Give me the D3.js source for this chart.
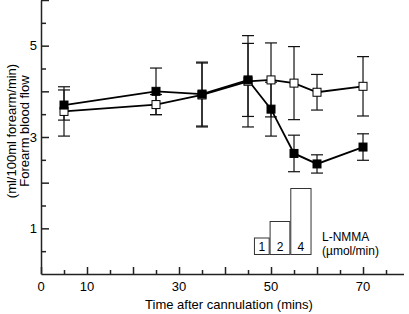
<!DOCTYPE html>
<html>
<head>
<meta charset="utf-8">
<script src="https://cdn.jsdelivr.net/npm/d3@7/dist/d3.min.js"></script>
<style>
  body { margin: 0; background: #fff; }
  svg { display: block; font-family: "Liberation Sans", Arial, sans-serif; }
  .axis path, .axis line { stroke: #222; stroke-width: 1.5px; }
</style>
</head>
<body>
<div id="chart"></div>
<script>
// time points (mins after cannulation)
var times = [5, 25, 35, 45, 50, 55, 60, 70];

// forearm blood flow, control arm (open squares)
var openMean = [3.56, 3.71, 3.92, 4.22, 4.25, 4.18, 3.98, 4.11];
var openErr  = [0.54, 0.22, 0.70, 1.00, 0.81, 0.80, 0.39, 0.65];

// forearm blood flow, infused arm (filled squares)
var filledMean = [3.70, 4.00, 3.94, 4.25, 3.61, 2.64, 2.41, 2.78];
var filledErr  = [0.33, 0.51, 0.70, 0.80, 0.59, 0.40, 0.20, 0.29];

// L-NMMA infusion steps
var doseStart = [46.4, 49.8, 54.3];
var doseEnd   = [49.6, 54.1, 58.7];
var doses     = [1, 2, 4];

var xTicks = d3.range(0, 76, 5);
var xLabels = [0, 10, 30, 50, 70];
var yTicks = d3.range(0.5, 6.01, 0.5);
var yLabels = [1, 3, 5];

var width = 409, height = 314;

var svg = d3.select('#chart').append('svg')
            .attr('width', width)
            .attr('height', height);

// scales
var xScale = d3.scaleLinear().domain([0, 78.8]).range([41, 403.5]),
    yScale = d3.scaleLinear().domain([0, 6]).range([274, 0]),
    doseScale = d3.scaleLinear().domain([0, 4]).range([254.5, 188.5]);

// axes - ticks point inwards, only some are labelled
var xAxis = d3.axisTop(xScale)
              .tickValues(xTicks)
              .tickSizeOuter(0)
              .tickSize(0)
              .tickFormat('');

var gx = svg.append('g')
            .attr('class', 'axis axis--x')
            .attr('transform', 'translate(0,274)')
            .call(xAxis);
gx.selectAll('.tick line')
  .attr('y2', function(d) { return d % 10 === 0 ? -7 : -4; });

svg.append('g').selectAll('text')
   .data(xLabels)
   .enter().append('text')
   .attr('x', function(d) { return xScale(d); })
   .attr('y', 291)
   .attr('text-anchor', 'middle')
   .style('font-size', '13px')
   .text(function(d) { return d; });

var yAxis = d3.axisRight(yScale)
              .tickValues(yTicks)
              .tickSizeOuter(0)
              .tickSize(0)
              .tickFormat('');

var gy = svg.append('g')
            .attr('class', 'axis axis--y')
            .attr('transform', 'translate(41,0)')
            .call(yAxis);
gy.selectAll('.tick line')
  .attr('x2', function(d) { return d % 1 === 0 ? 8 : 5; });

svg.append('g').selectAll('text')
   .data(yLabels)
   .enter().append('text')
   .attr('x', 37)
   .attr('y', function(d) { return yScale(d); })
   .attr('dy', '0.35em')
   .attr('text-anchor', 'end')
   .style('font-size', '13px')
   .text(function(d) { return d; });

// axis titles
svg.append('text')
   .attr('x', 229)
   .attr('y', 309)
   .attr('text-anchor', 'middle')
   .style('font-size', '13px')
   .text('Time after cannulation (mins)');

var ylab = svg.append('text')
              .attr('text-anchor', 'middle')
              .attr('transform', 'translate(0,131)rotate(-90)')
              .style('font-size', '13px');
ylab.append('tspan').attr('x', 0).attr('y', 29).text('Forearm blood flow');
ylab.append('tspan').attr('x', 0).attr('y', 16).text('(ml/100ml forearm/min)');

// L-NMMA dose boxes
var boxes = svg.append('g').selectAll('g')
               .data(doses)
               .enter().append('g');

boxes.append('rect')
     .attr('x', function(d, i) { return xScale(doseStart[i]); })
     .attr('width', function(d, i) { return xScale(doseEnd[i]) - xScale(doseStart[i]); })
     .attr('y', function(d) { return doseScale(d); })
     .attr('height', function(d) { return doseScale(0) - doseScale(d); })
     .attr('fill', '#fff')
     .attr('stroke', '#333')
     .attr('stroke-width', 1);

boxes.append('text')
     .attr('x', function(d, i) { return (xScale(doseStart[i]) + xScale(doseEnd[i])) / 2; })
     .attr('y', 251)
     .attr('text-anchor', 'middle')
     .style('font-size', '12px')
     .text(function(d) { return d; });

svg.append('text')
   .attr('x', 322)
   .attr('y', 241)
   .style('font-size', '12px')
   .text('L-NMMA');
svg.append('text')
   .attr('x', 322)
   .attr('y', 255)
   .style('font-size', '12px')
   .text('(\u00b5mol/min)');

// build series
function makeSeries(means, errs) {
  return times.map(function(t, i) {
    return {t: t, v: means[i], e: errs[i]};
  });
}
var series = [
  {name: 'open', data: makeSeries(openMean, openErr), fill: '#fff'},
  {name: 'filled', data: makeSeries(filledMean, filledErr), fill: '#000'}
];

var line = d3.line()
             .x(function(d) { return xScale(d.t); })
             .y(function(d) { return yScale(d.v); });

var capW = 6, sq = 8;

// error bars first
series.forEach(function(s) {
  var eb = svg.append('g').selectAll('g')
              .data(s.data)
              .enter().append('g')
              .attr('stroke', '#111')
              .attr('stroke-width', 1.2);
  eb.append('line')
    .attr('x1', function(d) { return xScale(d.t); })
    .attr('x2', function(d) { return xScale(d.t); })
    .attr('y1', function(d) { return yScale(d.v + d.e); })
    .attr('y2', function(d) { return yScale(d.v - d.e); });
  eb.append('line')
    .attr('x1', function(d) { return xScale(d.t) - capW; })
    .attr('x2', function(d) { return xScale(d.t) + capW; })
    .attr('y1', function(d) { return yScale(d.v + d.e); })
    .attr('y2', function(d) { return yScale(d.v + d.e); });
  eb.append('line')
    .attr('x1', function(d) { return xScale(d.t) - capW; })
    .attr('x2', function(d) { return xScale(d.t) + capW; })
    .attr('y1', function(d) { return yScale(d.v - d.e); })
    .attr('y2', function(d) { return yScale(d.v - d.e); });
});

// lines and markers, open series underneath
series.forEach(function(s) {
  svg.append('path')
     .datum(s.data)
     .attr('d', line)
     .attr('fill', 'none')
     .attr('stroke', '#000')
     .attr('stroke-width', 1.8);
});

series.forEach(function(s) {
  svg.append('g').selectAll('rect')
     .data(s.data)
     .enter().append('rect')
     .attr('x', function(d) { return xScale(d.t) - sq / 2; })
     .attr('y', function(d) { return yScale(d.v) - sq / 2; })
     .attr('width', sq)
     .attr('height', sq)
     .attr('fill', s.fill)
     .attr('stroke', '#000')
     .attr('stroke-width', 1);
});
</script>
</body>
</html>
